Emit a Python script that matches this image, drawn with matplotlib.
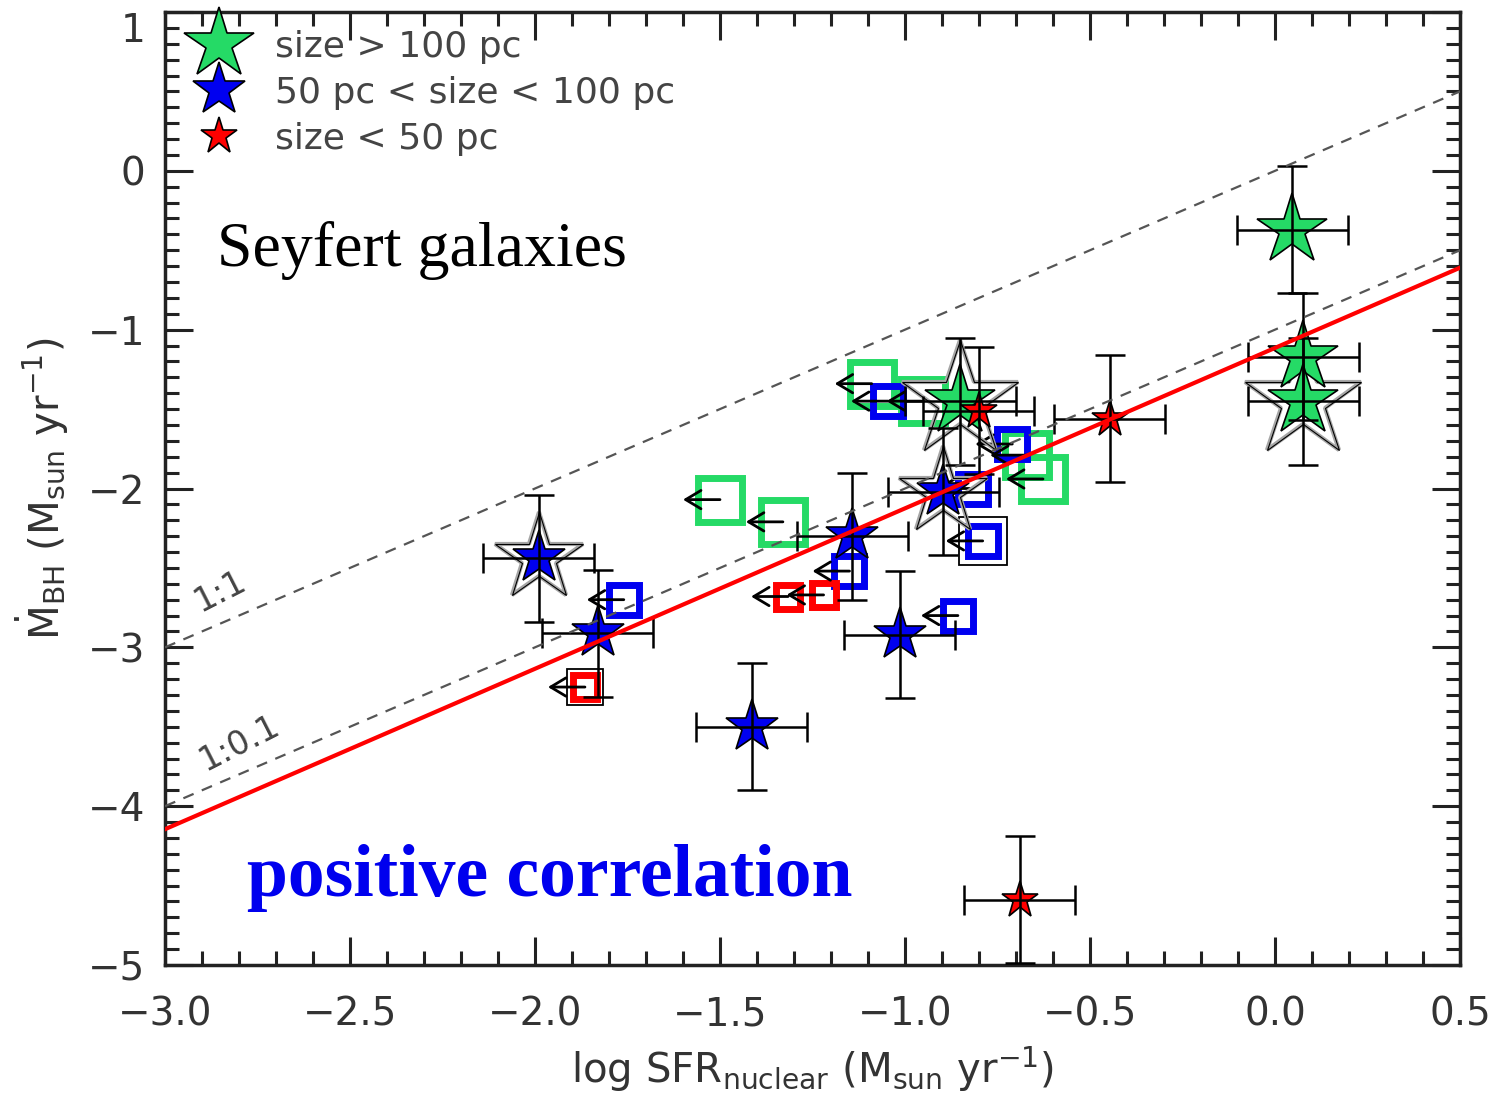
import numpy as np
import matplotlib.pyplot as plt
from matplotlib.lines import Line2D

plt.rcParams['font.family'] = ['DejaVu Sans']
plt.rcParams['mathtext.fontset'] = 'dejavusans'
plt.rcParams['mathtext.default'] = 'regular'

# ---- data ----
# stars: measured nuclear SFR
green_x = [0.046, 0.076, 0.076, -0.85]
green_y = [-0.37, -1.17, -1.45, -1.45]
green_halo = [False, False, True, True]

blue_x = [-1.99, -1.83, -1.414, -1.014, -1.143, -0.897]
blue_y = [-2.44, -2.91, -3.50, -2.92, -2.30, -2.02]
blue_halo = [True, False, False, False, False, True]

red_x = [-0.80, -0.446, -0.69]
red_y = [-1.51, -1.56, -4.59]

star_xerr = 0.15
star_yerr = 0.40

# squares: upper limits on SFR
glim_x = [-1.09, -0.95, -1.50, -1.33, -0.67, -0.627]
glim_y = [-1.34, -1.45, -2.07, -2.21, -1.79, -1.94]
blim_x = [-1.046, -0.71, -0.816, -0.79, -1.15, -0.857, -1.76]
blim_y = [-1.45, -1.72, -2.00, -2.33, -2.52, -2.80, -2.70]
blim_box = [False, False, False, True, False, False, False]
rlim_x = [-1.316, -1.22, -1.865]
rlim_y = [-2.68, -2.67, -3.25]
rlim_box = [False, False, True]
arrow_len = 0.1

# fit and reference lines
fit_slope = 1.01
fit_icpt = -1.115
ratio_lines = [0.0, -1.0]   # 1:1 and 1:0.1
ratio_labels = ['1:1', '1:0.1']

labels = ['size > 100 pc', '50 pc < size < 100 pc', 'size < 50 pc']

GREEN = '#25da66'
BLUE = '#0000f0'
RED = '#ff0000'

fig = plt.figure(figsize=(14.95, 10.95), dpi=100)
ax = fig.add_axes([165/1495, 1-965/1095, 1295/1495, 953/1095])

# upper limit squares with arrows
def limits(xs, ys, color, ms, boxes=None):
    ax.plot(xs, ys, 's', ms=ms, mfc='none', mec=color, mew=5, zorder=2)
    for i, (x, y) in enumerate(zip(xs, ys)):
        ax.annotate('', xy=(x - arrow_len, y), xytext=(x, y),
                    arrowprops=dict(arrowstyle='->,head_length=0.5,head_width=0.3',
                                    color='k', lw=2, mutation_scale=22,
                                    shrinkA=0, shrinkB=0), zorder=3)
        if boxes is not None and boxes[i]:
            ax.plot(x, y, 's', ms=ms * 1.55, mfc='none', mec='k', mew=1.3, zorder=1.9)

limits(glim_x, glim_y, GREEN, 31)
limits(blim_x, blim_y, BLUE, 22, blim_box)
limits(rlim_x, rlim_y, RED, 17, rlim_box)

# stars with error bars
def stars(xs, ys, color, ms, halo=None):
    if halo is not None:
        hx = [x for x, h in zip(xs, halo) if h]
        hy = [y for y, h in zip(ys, halo) if h]
        ax.plot(hx, hy, '*', ms=ms * 1.65, mfc='none', mec='0.65', mew=3, zorder=3.5)
        ax.plot(hx, hy, '*', ms=ms * 1.65, mfc='none', mec='k', mew=0.8, zorder=3.6)
    ax.plot(xs, ys, '*', ms=ms, mfc=color, mec='k', mew=1.2, zorder=4)
    ax.errorbar(xs, ys, xerr=star_xerr, yerr=star_yerr, fmt='none', ecolor='k',
                elinewidth=1.8, capsize=11, capthick=1.8, zorder=5)

stars(green_x, green_y, GREEN, 53, green_halo)
stars(blue_x, blue_y, BLUE, 40, blue_halo)
stars(red_x, red_y, RED, 28)

# lines
xx = np.array([-3.0, 0.5])
for off, lab, lx, ly in zip(ratio_lines, ratio_labels, [-2.85, -2.80], [-2.65, -3.60]):
    ax.plot(xx, xx + off, ls=(0, (5, 4)), color='#555555', lw=1.6, zorder=6)
    ax.text(lx, ly, lab, rotation=27, fontsize=24, color='#444444',
            ha='center', va='center', rotation_mode='anchor')
ax.plot(xx, fit_slope * xx + fit_icpt, color=RED, lw=3, zorder=6)

ax.text(-2.86, -0.5, 'Seyfert galaxies', family='Liberation Serif', fontsize=46,
        color='k', ha='left', va='center', zorder=10)
ax.text(-2.778, -4.45, 'positive correlation', family='Liberation Serif',
        fontsize=53, fontweight='bold', color='#0000ee', ha='left', va='center', zorder=10)

# legend
handles = [Line2D([], [], ls='none', marker='*', ms=53, mfc=GREEN, mec='k', mew=1.2),
           Line2D([], [], ls='none', marker='*', ms=40, mfc=BLUE, mec='k', mew=1.2),
           Line2D([], [], ls='none', marker='*', ms=28, mfc=RED, mec='k', mew=1.2)]
leg = ax.legend(handles, labels, loc='upper left', frameon=False, fontsize=26,
                borderaxespad=0, borderpad=0.5, labelspacing=0.33,
                handletextpad=0.55, handlelength=2.0)
for t in leg.get_texts():
    t.set_color('#444444')

ax.set_xlim(-3.0, 0.5)
ax.set_ylim(-5.0, 1.0)
ax.set_xticks(np.arange(-3.0, 0.51, 0.5))
ax.set_xticklabels(['\u22123.0', '\u22122.5', '\u22122.0', '\u22121.5', '\u22121.0',
                    '\u22120.5', '0.0', '0.5'])
ax.set_xticks(np.arange(-3.0, 0.51, 0.1), minor=True)
ax.set_yticks(np.arange(-5, 1.1, 1))
ax.set_yticklabels(['\u22125', '\u22124', '\u22123', '\u22122', '\u22121', '0', '1'])
ax.set_yticks(np.arange(-5, 1.01, 0.1), minor=True)
# top label sits just below the frame edge, as in the original
ax.get_yticklabels()[-1].set_verticalalignment('top')

ax.tick_params(which='both', direction='in', top=True, right=True,
               color='#222222', width=2.2, labelsize=28, labelcolor='#333333')
ax.tick_params(which='major', length=20)
ax.tick_params(which='minor', length=10)
ax.tick_params(axis='x', pad=22)
ax.tick_params(axis='y', pad=14)
for s in ax.spines.values():
    s.set_linewidth(2.5)
    s.set_color('#222222')

ax.set_xlabel(r'log SFR$_{\rm nuclear}$ (M$_{\rm sun}$ yr$^{-1}$)', fontsize=29,
              color='#333333', labelpad=8)
ax.set_ylabel(r'$\dot{M}_{\rm BH}$ (M$_{\rm sun}$ yr$^{-1}$)', fontsize=29,
              color='#333333', labelpad=12)

fig.savefig('out.png', dpi=100)
